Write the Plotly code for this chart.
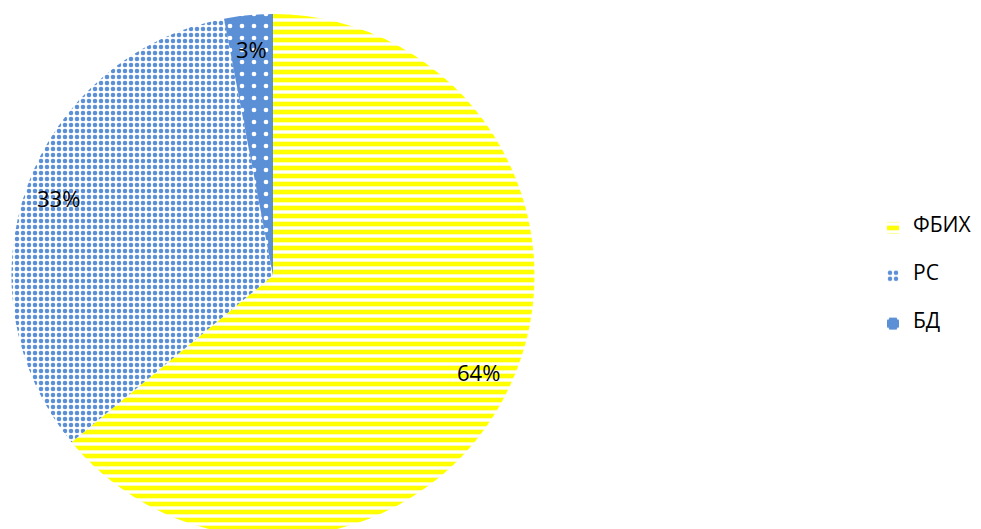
import math
import plotly.graph_objects as go

labels = ["ФБИХ", "РС", "БД"]
values = [64, 33, 3]
colors = ["#FFFF00", "#5B8FD6", "#5B8FD6"]

W, H = 981, 529
M_T, M_B, M_L, M_R = 6, 0, 0, 0
DOM_X = [3 / W, 527 / W]
DOM_Y = [0.0, 1.0]

# legend labels: pad with blank lines to widen entry spacing
legend_labels = ["\u00a0<br><span style='font-size:21px'>%s</span><br>\u00a0" % l for l in labels]

fig = go.Figure(go.Pie(
    labels=legend_labels,
    values=values,
    sort=False,
    direction="clockwise",
    rotation=0,
    textinfo="none",
    hoverinfo="skip",
    marker=dict(
        colors=colors,
        line=dict(width=0),
        pattern=dict(
            shape=["-", ".", "."],
            fillmode="replace",
            bgcolor=["#FFFF00", "#FFFFFF", "#5B8FD6"],
            fgcolor=["#FFFFFF", "#5B8FD6", "#FFFFFF"],
            size=[8, 6, 12],
            solidity=[0.42, 0.45, 0.12],
        ),
    ),
    domain=dict(x=DOM_X, y=DOM_Y),
    showlegend=True,
))

# percentage labels placed along each slice's mid-angle (computed from values)
plot_w = W - M_L - M_R
plot_h = H - M_T - M_B
cx = M_L + plot_w * (DOM_X[0] + DOM_X[1]) / 2
cy = M_T + plot_h * (1 - (DOM_Y[0] + DOM_Y[1]) / 2)
r = min(plot_w * (DOM_X[1] - DOM_X[0]), plot_h * (DOM_Y[1] - DOM_Y[0])) / 2
total = sum(values)
cum = 0
annotations = []
for v in values:
    mid = (cum + v / 2) / total * 2 * math.pi
    cum += v
    f = 0.87
    px = cx + f * r * math.sin(mid)
    py = cy - f * r * math.cos(mid)
    annotations.append(dict(
        x=(px - M_L) / plot_w, y=1 - (py - M_T) / plot_h,
        xref="paper", yref="paper", showarrow=False,
        xanchor="center", yanchor="middle",
        text="%d%%" % round(v / total * 100),
        font=dict(family="Open Sans, sans-serif", size=22, color="#000000"),
    ))

fig.update_layout(
    width=W,
    height=H,
    margin=dict(l=M_L, r=M_R, t=M_T, b=M_B),
    paper_bgcolor="white",
    plot_bgcolor="white",
    font=dict(family="Open Sans, sans-serif", size=11.5, color="#000000"),
    annotations=annotations,
    legend=dict(
        x=865 / W, y=(H - 268) / plot_h, xanchor="left", yanchor="middle",
        font=dict(size=11.5),
        itemsizing="constant",
    ),
)

fig.write_html("out.html")
